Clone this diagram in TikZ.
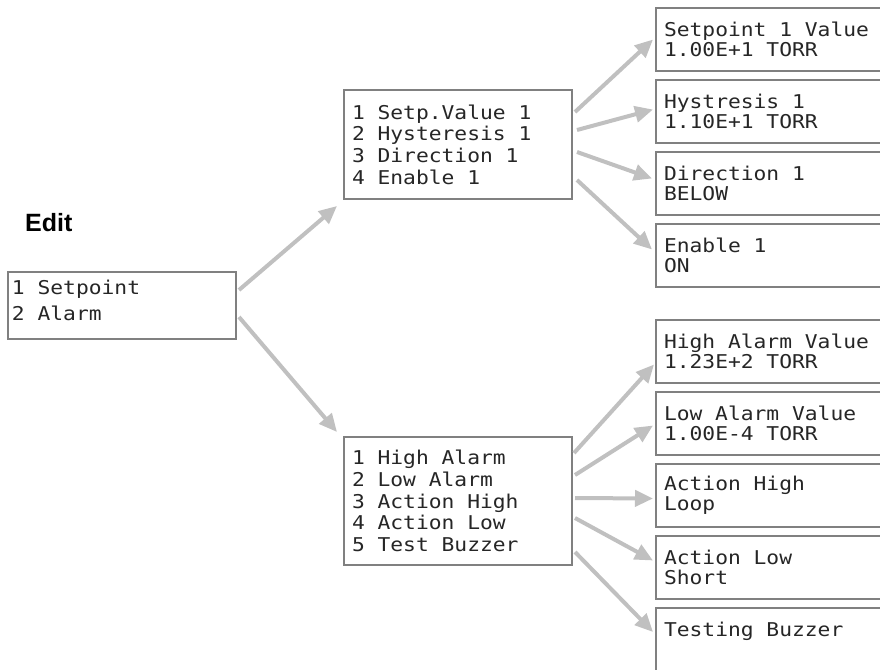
\documentclass[tikz,border=0pt]{standalone}
\usepackage{fontspec}
\newfontfamily\lcd[FakeStretch=1.12]{DejaVu Sans Mono}
\newfontfamily\editfont{Liberation Sans}
\newcommand\lcdsize[1]{\lcd\fontsize{19}{#1}\selectfont\spaceskip=12.8pt\relax\xspaceskip=12.8pt\relax}
\usetikzlibrary{arrows.meta,calc}
\definecolor{boxgray}{HTML}{808080}
\definecolor{arrgray}{HTML}{C0C0C0}
\definecolor{txt}{HTML}{262626}
\begin{document}
\begin{tikzpicture}[x=1pt,y=-1pt,
  box/.style={draw=boxgray, line width=2pt, anchor=north west, align=flush left,
    text=txt, inner ysep=0pt, inner xsep=8pt, fill=white},
  rootbox/.style={box, text width=220pt, inner xsep=4pt, minimum height=67pt,
    font=\lcdsize{25.5}},
  menubox/.style={box, font=\lcdsize{21.7}, text width=212pt},
  rbox/.style={box, text width=237pt, minimum height=63pt,
    font=\lcdsize{20}},
  arr/.style={draw=arrgray, line width=4pt, -{Triangle[length=18pt,width=16pt]}}]
\useasboundingbox (0,0) rectangle (880,669);
\clip (0,0) rectangle (880,669);

\node[anchor=base west, inner sep=0pt, font=\editfont\bfseries\fontsize{25}{30}\selectfont] (edit) at (25,231) {Edit};

\node[rootbox] (A) at (7,271) {1 Setpoint\\2 Alarm\rule[-10pt]{0pt}{0pt}};

\node[menubox, minimum height=109pt] (B) at (343,89)
  {1 Setp.Value 1\\2 Hysteresis 1\\3 Direction 1\\4 Enable 1};
\node[menubox, minimum height=128pt] (C) at (343,436)
  {1 High Alarm\\2 Low Alarm\\3 Action High\\4 Action Low\\5 Test Buzzer};

\node[rbox] (S1) at (655,7)   {Setpoint 1 Value\\1.00E+1 TORR};
\node[rbox] (S2) at (655,79)  {Hystresis 1\\1.10E+1 TORR};
\node[rbox] (S3) at (655,151) {Direction 1\\BELOW};
\node[rbox] (S4) at (655,223) {Enable 1\\ON};

\node[rbox] (H1) at (655,319) {High Alarm Value\\1.23E+2 TORR};
\node[rbox] (H2) at (655,391) {Low Alarm Value\\1.00E-4 TORR};
\node[rbox] (H3) at (655,463) {Action High\\Loop};
\node[rbox] (H4) at (655,535) {Action Low\\Short};
\node[rbox] (H5) at (655,607) {Testing Buzzer\\\mbox{}};

\draw[arr] ([shift={(2,19)}]A.north east) -- ([shift={(-6,6)}]B.south west);
\draw[arr] ([shift={(2,46)}]A.north east) -- ([shift={(-6,-4)}]C.north west);

\draw[arr] ([shift={(2,23)}]B.north east) -- ([shift={(-2,0)}]S1.west);
\draw[arr] ([shift={(4,41)}]B.north east) -- ([shift={(-2,-2)}]S2.west);
\draw[arr] ([shift={(4,63)}]B.north east) -- ([shift={(-3,-5)}]S3.west);
\draw[arr] ([shift={(4,91)}]B.north east) -- ([shift={(-3,-6)}]S4.west);

\draw[arr] ([shift={(1,17)}]C.north east) -- ([shift={(-1,13)}]H1.west);
\draw[arr] ([shift={(2,39)}]C.north east) -- ([shift={(-2,2)}]H2.west);
\draw[arr] ([shift={(2,62)}]C.north east) -- ([shift={(-2,3)}]H3.west);
\draw[arr] ([shift={(2,82)}]C.north east) -- ([shift={(-2,-7)}]H4.west);
\draw[arr] ([shift={(2,116)}]C.north east) -- ([shift={(-2,25)}]H5.north west);
\end{tikzpicture}
\end{document}
